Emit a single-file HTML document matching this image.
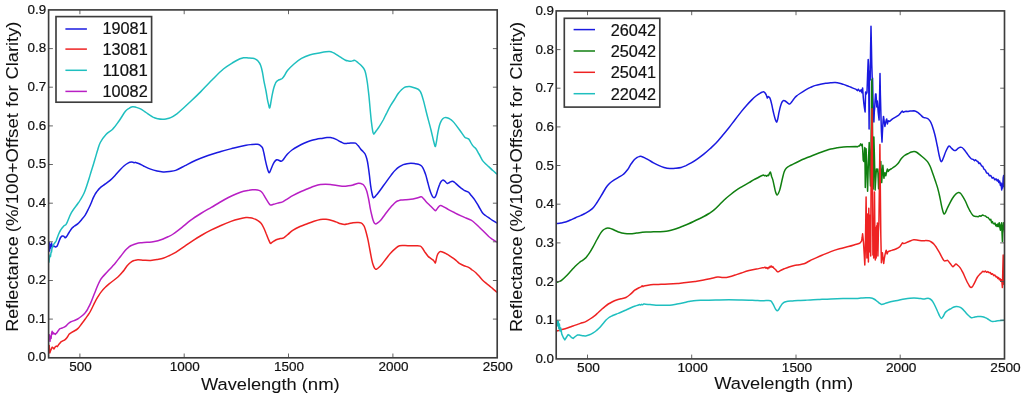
<!DOCTYPE html>
<html><head><meta charset="utf-8"><title>Reflectance spectra</title>
<style>
html,body{margin:0;padding:0;background:#fff;}
body{width:1024px;height:398px;overflow:hidden;}
svg{display:block;font-family:"Liberation Sans",sans-serif;will-change:transform;transform:translateZ(0);}
text{-webkit-font-smoothing:antialiased;stroke:#111;stroke-width:0.2px;}
text.al{stroke-width:0.05px;}
</style></head><body>
<svg width="1024" height="398" viewBox="0 0 1024 398">
<rect width="1024" height="398" fill="#fff"/>
<clipPath id="c48"><rect x="48.6" y="9.9" width="448.6" height="347.9"/></clipPath>
<g clip-path="url(#c48)" fill="none" stroke-width="1.5" stroke-linejoin="round" stroke-linecap="butt">
<path stroke="#1a1ae0" d="M48.9 246L49.2 242.6L49.6 251.1L50.2 244.5L50.8 248L51.5 243.1L52.2 246.2L53 246.5L54 246.1L55.6 247.1L57.1 246.1L57.1 246.1C57.3 245.7 57.8 244.6 58.1 243.8C58.4 243 58.7 242.2 59.1 241.1C59.5 240 60.1 238.3 60.6 237.5C61.1 236.7 61.6 236.2 62.1 236C62.6 235.8 63.2 236 63.6 236.2C64 236.4 64.3 236.9 64.6 237.2C64.9 237.4 65 237.8 65.3 237.7C65.6 237.6 66 237.4 66.6 236.5C67.2 235.6 68.2 233.9 69.1 232.5C70 231.1 71.2 229.1 72.1 228C73 226.9 73.6 226.7 74.5 226C75.4 225.3 76.5 225 77.7 223.9C78.9 222.8 80.2 221.2 81.5 219.7C82.8 218.2 84 216.9 85.2 215.1C86.4 213.3 87.4 211.1 88.4 209C89.5 206.9 90.8 204 91.5 202.3C92.2 200.6 92.3 200.1 92.8 198.9C93.3 197.7 94.1 196.2 94.7 195C95.3 193.8 95.7 193.2 96.6 192C97.5 190.8 98.8 188.9 100.3 187.6C101.8 186.2 103.7 185.2 105.4 183.9C107.1 182.7 108.7 181.6 110.4 180.1C112.1 178.6 113.7 176.9 115.4 175.1C117.1 173.3 118.9 171 120.4 169.4C121.9 167.8 122.9 166.8 124.2 165.7C125.5 164.6 126.8 163.7 128 163.1C129.2 162.5 130.6 162.2 131.7 162.1C132.8 162 133.7 162.6 134.3 162.7C134.9 162.8 134.7 162.2 135.5 162.4C136.3 162.6 137.9 163.2 139.3 163.8C140.7 164.4 142.1 165.3 144 166.2C145.9 167.1 148.4 168.3 150.6 169.1C152.8 169.9 154.9 170.5 157 171C159.1 171.5 161 171.8 163.1 171.9C165.2 172 167.4 171.8 169.5 171.5C171.6 171.2 173.1 171.4 175.7 170.4C178.3 169.4 181.7 167.4 185 165.7C188.3 164 192 162 195.8 160.3C199.6 158.6 203.8 157 208 155.5C212.2 154 216.6 152.8 220.9 151.5C225.2 150.2 229.8 149.1 234 148C238.2 146.9 243 145.8 246 145.2C249 144.6 250.1 144.7 252 144.5C253.9 144.3 256 144.1 257.3 144.2C258.6 144.3 259.1 144.6 260 145.2C260.9 145.8 261.7 146.3 262.4 147.7C263.1 149.1 263.5 151.4 264 153.5C264.5 155.6 264.9 158.1 265.4 160.3C265.9 162.6 266.5 165.2 267 167C267.5 168.8 267.8 170.1 268.2 171C268.6 171.9 268.9 172.6 269.2 172.7C269.5 172.8 269.7 172.5 270.2 171.3C270.7 170.2 271.7 167.4 272.4 165.8C273.1 164.2 273.8 162.8 274.5 161.8C275.2 160.8 276 160.1 276.7 159.8C277.4 159.6 278.1 160.1 278.8 160.3C279.6 160.6 280.5 161.4 281.2 161.3C281.9 161.2 282.4 160.7 283 160C283.6 159.3 284.2 158.2 285 157.2C285.8 156.2 286.3 155.2 287.5 154C288.7 152.8 290.3 151.2 292 150C293.7 148.8 295.7 147.6 297.7 146.5C299.7 145.4 301.9 144.2 304 143.2C306.1 142.2 308.2 141.4 310.3 140.7C312.4 140 314.4 139.6 316.5 139.2C318.6 138.8 321.1 138.5 322.9 138.2C324.6 137.9 325.8 137.7 327 137.6C328.2 137.5 329.3 137.3 330.4 137.4C331.5 137.5 332.4 137.9 333.5 138.3C334.6 138.7 335.5 139.1 336.7 139.7C337.9 140.3 339.2 141.2 340.5 141.8C341.8 142.4 343 143.2 344.2 143.5C345.4 143.8 346.4 143.4 347.5 143.3C348.6 143.2 349.6 143.1 350.5 143C351.4 142.9 352.2 143 353 143C353.8 143 354.7 142.8 355.5 143.2C356.3 143.6 357.1 144.6 358 145.6C358.9 146.6 359.8 148 360.6 149C361.4 150 362.2 150.7 363 151.5C363.8 152.3 364.5 152.8 365.1 154C365.7 155.2 366.3 156.9 366.8 158.8C367.3 160.7 367.7 162.6 368.1 165.3C368.5 168 369 171.7 369.4 175C369.8 178.3 370.2 182.5 370.6 185.4C371 188.3 371.4 190.5 371.8 192.5C372.2 194.5 372.7 196.7 373.1 197.5C373.5 198.3 373.9 197.6 374.3 197.3C374.8 197 375.2 196.5 375.8 195.8C376.4 195.1 376.9 194.6 378.1 193C379.3 191.4 381.3 188.6 383 186.3C384.7 184 386.7 181.2 388.2 179.1C389.7 177 390.8 175.6 392 174C393.2 172.4 394.4 171 395.7 169.8C396.9 168.6 398.2 167.6 399.5 166.7C400.8 165.8 402.1 165.1 403.3 164.6C404.6 164.1 405.8 163.9 407 163.7C408.2 163.5 409.6 163.3 410.8 163.3C412.1 163.3 413.2 163.4 414.5 163.6C415.8 163.8 417.3 164 418.3 164.3C419.3 164.6 419.7 164.8 420.3 165.2C420.9 165.6 421.5 165.8 422.1 166.6C422.7 167.4 423.4 168.8 424 170.3C424.6 171.8 425.3 173.4 425.9 175.4C426.5 177.4 427.2 180.2 427.8 182.5C428.4 184.8 429 187.2 429.6 189.2C430.2 191.2 430.9 193.1 431.5 194.5C432.1 195.9 432.8 197.1 433.4 197.5C434 197.9 434.4 197.8 434.9 197.2C435.4 196.6 435.9 195.6 436.4 194.2C436.9 192.8 437.4 190.7 438 189C438.6 187.3 439.1 185.5 439.7 184.2C440.2 182.9 440.8 181.9 441.3 181.2C441.9 180.5 442.4 179.9 443 179.9C443.6 179.9 444.3 180.7 445 181.3C445.7 181.9 446.4 183.2 447.2 183.4C447.9 183.6 448.6 182.9 449.5 182.5C450.4 182.1 451.4 181.2 452.3 181.2C453.2 181.2 453.9 181.9 454.7 182.5C455.5 183.1 456.3 184 457.3 184.9C458.3 185.8 459.4 186.8 460.5 187.7C461.6 188.5 462.7 189.4 463.6 190C464.5 190.6 465.2 190.7 466 191.1C466.8 191.5 467.7 191.4 468.6 192.2C469.5 193 470.4 194.5 471.5 195.8C472.6 197.1 473.7 198.4 474.9 200.1C476.1 201.8 477.2 203.9 478.5 206C479.8 208.1 481.2 211.1 482.4 212.7C483.6 214.3 484.4 214.7 485.5 215.5C486.6 216.3 487.5 216.9 488.7 217.7C489.9 218.5 491.1 219.4 492.5 220.3C493.9 221.2 496.4 222.7 497.2 223.2"/>
<path stroke="#ee2222" d="M48.9 348L49.2 345.4L49.8 353L50.7 350.3L52.2 347.2L53.1 347.8L54 349L55.2 346.9L56.4 346L57.3 346.6L58.5 344.8L60.9 341.9L60.9 341.9C61.2 341.7 62.2 341.1 62.8 340.8C63.4 340.5 63.8 340.6 64.5 340.1C65.2 339.6 66.1 338.7 66.9 337.7C67.7 336.7 68.6 334.9 69.3 334.1C70 333.3 70.4 333.2 71 332.8C71.6 332.4 71.9 332.4 73 331.7C74.1 331 76.4 329.9 77.8 328.6C79.2 327.3 80.3 325.6 81.5 324C82.7 322.4 84.2 320.4 85.2 319C86.2 317.6 87 316.6 87.8 315.3C88.6 314.1 89.5 313 90.3 311.5C91.1 310 92 308.2 92.8 306.5C93.6 304.8 94.3 303.2 95.3 301.4C96.2 299.6 97.5 297.5 98.5 295.8C99.5 294.1 100.5 292.8 101.6 291.4C102.7 290 104 288.6 105.3 287.3C106.5 286 107.7 284.9 109.1 283.8C110.5 282.7 112 281.6 113.5 280.5C115 279.4 116.7 278.1 117.9 277C119.2 275.9 120 275 121 273.8C122 272.6 123.1 271.5 124.2 270C125.3 268.5 126.5 266.4 127.8 265C129 263.6 130.5 262.4 131.7 261.6C132.9 260.8 133.8 260.7 134.8 260.4C135.9 260.1 136.5 259.8 138 259.8C139.5 259.8 141.9 260.1 144 260.2C146.1 260.3 148.4 260.5 150.6 260.4C152.8 260.3 154.9 260 157 259.6C159.1 259.2 161 259 163.1 258.3C165.2 257.6 167.4 256.5 169.5 255.5C171.6 254.5 173.2 253.8 175.7 252.3C178.2 250.8 181.6 248.3 184.5 246.3C187.4 244.3 190.4 242.2 193.3 240.3C196.2 238.4 199.1 236.7 202 235C204.9 233.3 207.7 231.8 210.9 230.2C214.1 228.6 217.7 227 221 225.5C224.3 224 228 222.5 231 221.4C234 220.3 236.5 219.6 239 219C241.5 218.4 244.2 217.8 246 217.6C247.8 217.4 248.7 217.6 250 217.8C251.3 218 252.3 218.2 253.6 218.6C254.8 219 256.2 219.5 257.5 220.3C258.8 221.1 260.1 222 261.1 223.3C262.2 224.6 263 226.3 263.8 228C264.6 229.7 265.4 231.7 266.1 233.5C266.9 235.3 267.6 237.4 268.3 239C269 240.6 269.8 242.8 270.4 243.3C271 243.9 271 242.9 272 242.3C273 241.7 274.9 240.4 276.2 239.8C277.5 239.2 278.8 238.9 280 238.6C281.2 238.3 282.4 238.5 283.7 237.8C285 237.1 286.5 235.6 288 234.3C289.5 233.1 290.7 231.6 292.7 230.3C294.7 229 297.5 227.6 300 226.5C302.5 225.4 305.5 224.4 307.8 223.5C310.1 222.6 311.9 221.9 314 221.2C316.1 220.5 318.6 219.7 320.4 219.4C322.2 219.1 323.6 219.2 325 219.3C326.4 219.4 327.7 219.4 329.1 219.7C330.5 220 332 220.5 333.5 221C335 221.5 336.6 222.2 337.9 222.7C339.1 223.2 339.9 223.5 341 223.8C342.1 224.1 342.9 224.5 344.2 224.5C345.4 224.5 347 224 348.5 223.7C350 223.4 351.6 222.9 353 222.7C354.4 222.5 355.7 222.5 357 222.5C358.3 222.5 359.7 222.4 360.6 222.7C361.5 222.9 361.9 223.4 362.5 224C363.1 224.6 363.7 225.1 364.3 226.5C364.9 227.9 365.6 230.2 366.2 232.5C366.8 234.8 367.5 237.3 368.1 240.3C368.7 243.3 369.4 247.2 370 250.5C370.6 253.8 371.4 258 371.9 260.4C372.4 262.8 372.8 263.8 373.2 265C373.6 266.2 374 267.2 374.4 267.9C374.8 268.6 375.1 268.8 375.4 269C375.7 269.2 375.9 269.4 376.4 269.2C376.9 269 377.6 268.5 378.5 267.7C379.4 266.9 380.6 265.7 381.9 264.2C383.2 262.7 384.8 260.4 386.3 258.5C387.8 256.6 389.2 254.5 390.7 252.9C392.1 251.3 393.5 250 395 248.8C396.5 247.6 397.8 246.3 399.5 245.8C401.2 245.3 403.1 245.6 405 245.6C406.9 245.6 409 245.8 410.8 245.8C412.6 245.8 414.4 245.8 416 245.8C417.6 245.9 419.3 245.7 420.4 246.1C421.5 246.5 421.8 247.4 422.5 248.3C423.2 249.2 423.9 250.6 424.6 251.6C425.3 252.6 425.9 253.5 426.5 254.3C427.1 255.1 427.7 255.9 428.4 256.6C429.1 257.3 429.9 257.8 430.6 258.3C431.4 258.9 432.3 259.4 432.9 259.9C433.5 260.4 433.9 261 434.3 261.5C434.7 262 435.1 263.2 435.4 262.9C435.7 262.6 435.9 260.8 436.2 259.5C436.5 258.2 436.8 256.5 437.2 255.4C437.6 254.3 438.1 253.4 438.7 252.8C439.2 252.2 439.8 251.7 440.5 251.6C441.2 251.5 442.1 251.9 443 252.2C443.9 252.5 444.9 253 446 253.6C447.1 254.2 448.4 255 449.7 255.8C450.9 256.6 452.3 257.5 453.5 258.4C454.7 259.3 455.6 260.1 456.7 261C457.8 261.9 458.6 262.9 459.8 263.7C461 264.5 462.5 265.1 464 265.7C465.5 266.3 467.2 266.7 468.6 267.4C470 268.1 471.1 269.1 472.3 270C473.6 270.9 475 271.9 476.1 273C477.2 274.1 478.1 275.1 479.2 276.3C480.2 277.5 481.3 278.9 482.4 280C483.5 281.1 484.7 282.1 486 283.2C487.3 284.2 488.8 285.3 490 286.3C491.2 287.3 492.3 288.3 493.5 289.3C494.7 290.3 496.6 292 497.2 292.5"/>
<path stroke="#1fbfbf" d="M48.9 262.7L49.4 258L50 255.1L50.5 256.5L51 252.5L51.5 252.1L52 248.1L52.7 246.8L53.5 244.6L54.7 243L56.1 241.1L56.1 241.1C56.4 240.2 57.4 237.2 58.1 235.5C58.8 233.8 59.4 232.2 60.1 231C60.8 229.8 61.4 228.9 62.1 228C62.8 227.1 63.6 226.2 64.3 225.5C65 224.8 65.2 226.1 66.4 223.9C67.6 221.8 69.5 215.9 71.4 212.6C73.3 209.2 76.2 205.9 77.7 203.8C79.2 201.7 79.2 201.8 80.2 200C81.2 198.2 82.9 195.8 84 193.3C85.1 190.8 86.2 187.4 87 185C87.8 182.6 88.2 181.4 89 178.8C89.8 176.2 90.8 172.6 91.8 169.5C92.8 166.4 93.8 163.2 94.7 160C95.7 156.8 96.6 153.4 97.5 150.5C98.4 147.6 98.9 145.2 100.3 142.5C101.7 139.8 103.9 136.8 106 134.5C108.1 132.2 110.7 131.2 112.9 128.9C115.1 126.7 116.9 123.9 119 121C121.1 118.1 123.7 113.4 125.4 111.3C127.1 109.2 127.8 109 129 108.3C130.2 107.5 131.3 107 132.5 106.8C133.7 106.6 134.7 107 136 107.3C137.3 107.6 138.8 107.9 140.5 108.8C142.2 109.7 143.9 111.1 146 112.5C148.1 113.9 151 116 153 117.1C155 118.1 156.4 118.4 158 118.8C159.6 119.2 161.1 119.3 162.4 119.3C163.7 119.3 164.6 119.2 166 118.9C167.4 118.6 168.9 118.4 170.7 117.6C172.5 116.8 174.8 115.3 176.9 113.8C179 112.3 180.7 110.6 183 108.5C185.3 106.4 187.8 104.1 190.8 101.3C193.8 98.5 197.3 95.1 200.8 91.6C204.3 88 208.2 83.8 212 80C215.8 76.2 219.9 71.9 223.4 69C226.9 66.1 230.2 64.2 233 62.5C235.8 60.8 238.2 59.6 240 58.8C241.8 58 242.2 57.9 243.5 57.7C244.8 57.6 246.6 57.8 248 57.9C249.4 58 250.8 58 252 58.2C253.2 58.4 254 58.4 255 58.9C256 59.4 257.1 60 258 61C258.9 62 259.9 63.4 260.6 65.2C261.3 67 261.9 69.5 262.4 72C262.9 74.5 263.2 77.1 263.8 80.3C264.4 83.5 265.4 87.7 266 91C266.6 94.3 267.1 98 267.6 100.4C268.1 102.8 268.5 104.2 268.8 105.5C269.1 106.8 269.4 108.2 269.7 108C270 107.8 270.2 106.1 270.6 104C271 101.9 271.6 97.9 272.1 95.4C272.6 92.9 273 90.9 273.5 89C274 87.1 274.6 85.3 275.1 84.1C275.6 82.8 276.1 82.1 276.6 81.5C277.1 80.9 277.5 80.6 278.1 80.3C278.7 80 279.3 79.8 280 79.5C280.7 79.2 281.4 79.2 282.2 78.5C282.9 77.8 283.6 76.9 284.5 75.5C285.4 74.1 286.1 72.2 287.7 70.3C289.3 68.4 291.7 66 294 64C296.3 62 298.8 59.9 301.5 58.4C304.2 56.9 307.2 55.7 310.3 54.7C313.4 53.8 317.8 53.2 320.4 52.7C323 52.2 324.6 51.9 326 51.7C327.4 51.5 328.2 51.4 329.1 51.4C330 51.4 330.6 51.7 331.5 52C332.4 52.3 332.7 52.3 334.2 53.2C335.7 54.1 338.6 56 340.5 57.2C342.4 58.4 344.2 59.6 345.5 60.2C346.8 60.8 347.6 60.7 348.5 60.9C349.4 61.1 350.3 61.2 351 61.2C351.7 61.2 352.2 61 352.8 60.8C353.4 60.6 353.8 60.2 354.3 60.2C354.8 60.2 355.4 60.6 356 61C356.6 61.4 357.2 62 358 62.7C358.8 63.4 360.1 64.4 361 65.3C361.9 66.2 362.9 67.2 363.6 68.2C364.3 69.2 364.6 69.8 365 71C365.4 72.2 365.7 73.3 366.1 75.3C366.5 77.3 367 80.1 367.4 83C367.8 85.9 368.2 89.6 368.6 92.9C369 96.2 369.3 99.7 369.6 103C369.9 106.3 370.2 110 370.5 113C370.8 116 371 118.5 371.3 121C371.6 123.5 371.9 126.1 372.2 128C372.5 129.9 372.7 131.5 373 132.5C373.3 133.5 373.5 134.2 373.8 134.2C374.1 134.2 374.6 133.1 375 132.5C375.4 131.9 375.8 131.5 376.5 130.5C377.2 129.5 378.3 128.2 379.4 126.4C380.5 124.7 381.9 122.3 383.2 120C384.4 117.7 385.6 115 386.9 112.6C388.1 110.2 389.4 107.6 390.7 105.4C392 103.2 393.2 101.5 394.5 99.5C395.8 97.5 397 95.1 398.2 93.5C399.4 91.9 400.4 90.7 401.5 89.7C402.6 88.7 403.6 87.8 404.5 87.3C405.4 86.8 406.2 86.8 407 86.7C407.8 86.6 408.6 86.5 409.5 86.6C410.4 86.7 411.4 86.9 412.5 87.2C413.6 87.5 414.8 87.9 415.8 88.3C416.8 88.7 417.7 89 418.5 89.5C419.3 90 419.8 90.7 420.4 91.6C420.9 92.5 421.3 93.5 421.8 95C422.3 96.5 422.7 97.9 423.4 100.4C424.1 102.9 425 106.7 425.8 110C426.6 113.3 427.5 116.8 428.4 120.1C429.3 123.4 430.2 126.7 431 130C431.8 133.3 432.8 137.8 433.4 140.2C434 142.6 434.2 143.4 434.5 144.5C434.8 145.6 435.1 146.9 435.4 146.5C435.7 146.1 436 144.3 436.4 142C436.8 139.7 437.4 135.4 437.9 132.7C438.4 130 438.8 127.9 439.3 126C439.8 124.1 440.4 122.6 441 121.4C441.6 120.2 442.2 119.4 442.8 118.8C443.4 118.2 444 117.8 444.7 117.6C445.4 117.4 446.2 117.5 447 117.7C447.8 117.9 448.8 118.2 449.7 118.8C450.6 119.3 451.4 120 452.5 121C453.6 122 454.8 123.5 456 125.1C457.2 126.7 458.5 128.5 460 130.5C461.5 132.5 463.7 135.9 464.8 137.2C465.9 138.5 466.2 137.9 466.8 138.2C467.4 138.5 468 138.3 468.6 138.9C469.2 139.5 469.9 140.9 470.5 142C471.1 143.1 471.8 144.3 472.4 145.2C473 146.1 473.7 146.6 474.3 147.2C474.9 147.8 475.3 147.9 476.1 149C476.9 150.1 477.9 152.1 479 154C480.1 155.9 481.3 158.7 482.4 160.3C483.5 161.9 484.4 162.6 485.5 163.7C486.6 164.8 487.5 165.5 488.7 166.6C489.9 167.7 491.1 169 492.5 170.3C493.9 171.6 496.4 173.5 497.2 174.2"/>
<path stroke="#b81fc4" d="M48.9 336L49.2 334.7L49.6 338L50 341.3L50.4 337.5L50.7 336L51.1 338.5L51.5 334L52.1 331.3L52.6 334L53.1 332.5L53.8 333.8L54.5 333.5L55.2 334.4L56.1 333.5L57 332.6L57 332.6C57.2 332.3 57.9 331.2 58.4 330.6C58.9 330 59.1 329.3 59.7 328.9C60.3 328.5 61.2 328.4 62.1 328C63 327.6 64.1 327.4 65.1 326.7C66.1 326 67.2 324.6 68.1 323.8C69 323 69.5 322.5 70.5 322C71.5 321.5 72.8 321.1 74 320.6C75.2 320.1 76.5 319.7 77.7 319C79 318.3 80.2 317.4 81.5 316.3C82.8 315.2 84.2 313.9 85.2 312.7C86.2 311.4 87 310.3 87.8 308.8C88.6 307.3 89.5 305.7 90.3 303.9C91.1 302.1 92 299.9 92.8 297.8C93.6 295.7 94.5 293.5 95.3 291.4C96.1 289.3 97 287.2 97.8 285.3C98.6 283.4 99.5 281.5 100.3 280.1C101.1 278.7 101.2 278.5 102.5 277C103.8 275.5 105.6 273.7 107.8 271.3C110 268.9 113.3 265.4 115.4 262.9C117.5 260.4 118.8 258.6 120.5 256.5C122.2 254.4 124.1 251.8 125.4 250.3C126.7 248.8 127.5 248.1 128.5 247.3C129.6 246.5 130.4 245.9 131.7 245.3C132.9 244.7 134.5 244.1 136 243.7C137.5 243.3 138.7 243 140.5 242.8C142.3 242.6 144.9 242.5 147 242.3C149.1 242.1 151.3 242.1 153.1 241.8C154.9 241.5 156.3 241.2 158 240.7C159.7 240.2 161.4 239.7 163.1 239C164.8 238.3 166.3 237.6 168 236.8C169.7 236 170.9 235.6 173.2 234C175.5 232.4 179.1 229.6 182 227.3C184.9 225 187.7 222.5 190.8 220.2C193.9 217.9 197.5 215.6 200.8 213.5C204.2 211.4 207.8 209.4 210.9 207.6C214 205.8 216.6 204.2 219.5 202.5C222.4 200.8 225.7 198.9 228.4 197.5C231.2 196.1 233.5 195 236 194C238.5 193 241.3 191.9 243.5 191.3C245.7 190.7 247.3 190.4 249 190.2C250.7 189.9 252.2 189.9 253.6 189.8C255 189.8 256.4 189.7 257.5 189.9C258.6 190.1 259.3 190.3 260.2 190.8C261.1 191.3 261.8 192 262.6 193.1C263.4 194.2 264.2 195.8 265 197.2C265.8 198.6 266.9 200.3 267.6 201.4C268.3 202.5 268.7 203.2 269.2 203.8C269.7 204.4 269.9 205 270.6 205.1C271.3 205.2 272.3 204.6 273.5 204.3C274.7 204 276.5 203.4 277.6 203.1C278.7 202.8 279.4 202.7 280.2 202.5C281 202.3 281.5 202.5 282.7 201.9C283.9 201.3 285.8 199.9 287.5 198.8C289.2 197.8 290.6 196.7 292.7 195.6C294.8 194.5 297.5 193.1 300 192C302.5 190.9 305.5 189.8 307.8 188.8C310.1 187.9 311.9 187 314 186.3C316.1 185.6 318.5 184.8 320.4 184.5C322.3 184.2 323.8 184.2 325.5 184.2C327.2 184.2 328.5 184.2 330.4 184.4C332.3 184.6 334.7 185.2 337 185.5C339.3 185.8 342.3 186.3 344.2 186.3C346.1 186.3 347 185.9 348.5 185.7C350 185.5 351.8 185.2 353 184.9C354.2 184.6 354.9 184.3 355.8 184C356.7 183.7 357.6 183.4 358.5 183.3C359.4 183.2 360.2 183.4 361 183.6C361.8 183.8 362.4 183.9 363.1 184.5C363.8 185.1 364.4 185.9 365 187C365.6 188.1 366.2 189.4 366.8 191.3C367.4 193.2 367.9 195.8 368.5 198.5C369.1 201.2 369.6 204.9 370.1 207.6C370.6 210.3 371.1 212.4 371.6 214.5C372.1 216.6 372.6 218.8 373.1 220.2C373.6 221.6 374 222.6 374.4 223.2C374.8 223.8 375.1 224 375.6 224C376.1 224 376.5 223.8 377.3 223.2C378.1 222.6 379.5 221.5 380.7 220.2C381.9 218.9 383.2 216.9 384.5 215.2C385.8 213.5 386.9 211.8 388.2 210.2C389.4 208.6 390.8 207.2 392 205.8C393.2 204.5 394.6 202.9 395.7 202.1C396.8 201.3 397.4 201.1 398.3 200.8C399.2 200.5 399.6 200.3 400.8 200.1C402 199.9 403.8 199.8 405.5 199.7C407.2 199.6 409.1 199.5 410.8 199.3C412.6 199.1 414.3 198.7 416 198.3C417.7 197.9 419.8 197 420.9 196.8C421.9 196.6 421.9 197 422.3 197.3C422.8 197.6 423 198.1 423.6 198.8C424.2 199.5 424.8 200.2 425.9 201.4C427 202.6 429.1 204.6 430.5 206C431.9 207.4 433.4 208.9 434.2 209.7C435 210.5 435 210.7 435.4 210.7C435.8 210.7 436.1 210.1 436.6 209.5C437.1 208.9 437.9 207.7 438.5 207C439.1 206.3 439.8 205.7 440.5 205.6C441.2 205.5 441.5 205.6 442.8 206.3C444.1 207 446.5 208.5 448.5 209.6C450.5 210.7 452.7 211.8 454.8 212.8C456.9 213.9 459.2 215 461.1 215.9C463 216.8 464.3 217.3 466 218C467.7 218.7 469.6 219.4 471.1 220.2C472.6 221 473.6 221.9 474.8 223C476.1 224.1 477.2 225.1 478.6 226.5C480.1 227.9 481.8 229.6 483.5 231.3C485.2 233 487.2 235.2 488.7 236.5C490.2 237.8 491.1 238.3 492.5 239.3C493.9 240.3 496.4 241.8 497.2 242.3"/>
</g>
<path d="M79.9 357.8v-4.3M79.9 9.9v4.3M184.2 357.8v-4.3M184.2 9.9v4.3M288.5 357.8v-4.3M288.5 9.9v4.3M392.9 357.8v-4.3M392.9 9.9v4.3M48.6 319.1h4.3M497.2 319.1h-4.3M48.6 280.5h4.3M497.2 280.5h-4.3M48.6 241.8h4.3M497.2 241.8h-4.3M48.6 203.2h4.3M497.2 203.2h-4.3M48.6 164.5h4.3M497.2 164.5h-4.3M48.6 125.9h4.3M497.2 125.9h-4.3M48.6 87.2h4.3M497.2 87.2h-4.3M48.6 48.6h4.3M497.2 48.6h-4.3" stroke="#555" stroke-width="0.9" fill="none"/>
<rect x="48.6" y="9.9" width="448.6" height="347.9" fill="none" stroke="#3d3d3d" stroke-width="1.65"/>
<g font-size="12.7" fill="#111">
<text x="80.4" y="371.3" text-anchor="middle" textLength="22.5" lengthAdjust="spacingAndGlyphs">500</text>
<text x="184.7" y="371.3" text-anchor="middle" textLength="30" lengthAdjust="spacingAndGlyphs">1000</text>
<text x="289" y="371.3" text-anchor="middle" textLength="30" lengthAdjust="spacingAndGlyphs">1500</text>
<text x="393.4" y="371.3" text-anchor="middle" textLength="30" lengthAdjust="spacingAndGlyphs">2000</text>
<text x="497.7" y="371.3" text-anchor="middle" textLength="30" lengthAdjust="spacingAndGlyphs">2500</text>
<text x="46.1" y="361.4" text-anchor="end" textLength="18.6" lengthAdjust="spacingAndGlyphs">0.0</text>
<text x="46.1" y="322.7" text-anchor="end" textLength="18.6" lengthAdjust="spacingAndGlyphs">0.1</text>
<text x="46.1" y="284.1" text-anchor="end" textLength="18.6" lengthAdjust="spacingAndGlyphs">0.2</text>
<text x="46.1" y="245.4" text-anchor="end" textLength="18.6" lengthAdjust="spacingAndGlyphs">0.3</text>
<text x="46.1" y="206.8" text-anchor="end" textLength="18.6" lengthAdjust="spacingAndGlyphs">0.4</text>
<text x="46.1" y="168.1" text-anchor="end" textLength="18.6" lengthAdjust="spacingAndGlyphs">0.5</text>
<text x="46.1" y="129.5" text-anchor="end" textLength="18.6" lengthAdjust="spacingAndGlyphs">0.6</text>
<text x="46.1" y="90.8" text-anchor="end" textLength="18.6" lengthAdjust="spacingAndGlyphs">0.7</text>
<text x="46.1" y="52.2" text-anchor="end" textLength="18.6" lengthAdjust="spacingAndGlyphs">0.8</text>
<text x="46.1" y="13.5" text-anchor="end" textLength="18.6" lengthAdjust="spacingAndGlyphs">0.9</text>
</g>
<text class="al" x="201" y="389.9" font-size="16.6" fill="#111" textLength="95.6" lengthAdjust="spacingAndGlyphs">Wavelength</text>
<text class="al" x="301.7" y="389.9" font-size="16.6" fill="#111" textLength="38.1" lengthAdjust="spacingAndGlyphs">(nm)</text>
<text class="al" transform="translate(18.4 331.8) rotate(-90)" font-size="16.6" fill="#111" textLength="95.5" lengthAdjust="spacingAndGlyphs">Reflectance</text>
<text class="al" transform="translate(18.4 232.2) rotate(-90)" font-size="16.6" fill="#111" textLength="119.1" lengthAdjust="spacingAndGlyphs">(%/100+Offset</text>
<text class="al" transform="translate(18.4 107.1) rotate(-90)" font-size="16.6" fill="#111" textLength="21.9" lengthAdjust="spacingAndGlyphs">for</text>
<text class="al" transform="translate(18.4 79.6) rotate(-90)" font-size="16.6" fill="#111" textLength="58" lengthAdjust="spacingAndGlyphs">Clarity)</text>
<rect x="56" y="16.6" width="95.6" height="85.6" fill="#fff" stroke="#3d3d3d" stroke-width="1.65"/>
<path d="M65.4 29H86.9" stroke="#1a1ae0" stroke-width="1.5"/>
<text x="102.5" y="34.4" font-size="15.9" fill="#111" textLength="45.2" lengthAdjust="spacingAndGlyphs">19081</text>
<path d="M65.4 49.1H86.9" stroke="#ee2222" stroke-width="1.5"/>
<text x="102.5" y="54.5" font-size="15.9" fill="#111" textLength="45.2" lengthAdjust="spacingAndGlyphs">13081</text>
<path d="M65.4 70.3H86.9" stroke="#1fbfbf" stroke-width="1.5"/>
<text x="102.5" y="75.7" font-size="15.9" fill="#111" textLength="45.2" lengthAdjust="spacingAndGlyphs">11081</text>
<path d="M65.4 91.4H86.9" stroke="#b81fc4" stroke-width="1.5"/>
<text x="102.5" y="96.8" font-size="15.9" fill="#111" textLength="45.2" lengthAdjust="spacingAndGlyphs">10082</text>
<clipPath id="c556"><rect x="556.2" y="10.9" width="448.3" height="348"/></clipPath>
<g clip-path="url(#c556)" fill="none" stroke-width="1.5" stroke-linejoin="round" stroke-linecap="butt">
<path stroke="#1a1ae0" d="M557 223.6C557.7 223.5 559.6 223.3 561 223C562.4 222.7 564 222.5 565.6 222C567.2 221.5 568.8 220.7 570.5 220C572.2 219.3 573.9 218.4 575.6 217.7C577.3 217 578.8 216.3 580.5 215.6C582.2 214.8 584.2 214 585.7 213.2C587.2 212.4 588.2 211.7 589.5 210.8C590.8 209.9 592 209.1 593.2 207.7C594.5 206.3 595.7 204.4 597 202.5C598.3 200.6 599.6 198.3 600.8 196.4C602 194.5 603 192.7 604 191C605 189.3 606 187.6 607 186.3C608 185 608.9 184 610 183C611.1 182 612.1 181.3 613.5 180.4C614.9 179.5 616.9 178.3 618.5 177.3C620.1 176.3 621.9 175.6 623.4 174.3C624.9 173.1 626.2 171.5 627.5 169.8C628.8 168.1 629.8 165.8 630.9 164.2C632 162.6 633 161.1 634 160C635 158.9 636.3 158 637.2 157.4C638.1 156.8 638.8 156.7 639.5 156.5C640.2 156.3 640.6 156.2 641.5 156.4C642.4 156.6 643.6 157.2 644.8 157.8C646 158.4 647 159.1 648.5 159.9C650 160.7 651.8 161.9 653.5 162.8C655.2 163.7 656.9 164.6 658.6 165.4C660.4 166.2 662.1 166.9 664 167.4C665.9 167.9 668 168.3 669.9 168.4C671.8 168.5 673.6 168.4 675.5 168.2C677.4 168 679.5 167.8 681.2 167.4C683 167 684.3 166.3 686 165.6C687.7 164.8 689.3 164 691.2 162.9C693.1 161.8 695.4 160.3 697.5 158.8C699.6 157.3 701.7 155.8 703.8 154.1C705.9 152.4 707.9 150.6 710 148.7C712.1 146.8 714.2 145 716.3 142.8C718.4 140.6 720.4 138 722.5 135.5C724.6 133 726.8 130.3 728.9 127.7C731 125.1 732.9 122.4 735 119.7C737.1 117 739.6 113.8 741.5 111.4C743.4 109 744.8 107.4 746.5 105.5C748.2 103.6 749.9 101.7 751.5 100.1C753.1 98.5 754.5 97.2 756 96C757.5 94.8 759.3 93.7 760.3 93.1C761.3 92.5 761.5 92.4 762 92.2C762.5 92 763.1 91.7 763.6 91.8C764.1 91.9 764.5 92.3 764.9 92.8C765.3 93.3 765.9 94.3 766.1 94.6L766.1 94.6L767.3 98.1L768.2 96.5L769.1 97.1L769.9 98L770.6 100L770.6 100C770.8 100.7 771.2 102.3 771.6 103.9C772 105.5 772.4 107.6 772.8 109.5C773.2 111.4 773.7 113.5 774.1 115.2C774.5 116.9 775 118.6 775.4 119.8C775.8 121 776.2 122.2 776.6 122.2C777 122.2 777.2 120.9 777.6 119.5C778 118.1 778.3 115.8 778.7 113.9C779.1 112 779.5 110 779.9 108.3C780.3 106.6 780.8 105 781.2 103.9C781.6 102.8 782 102.1 782.4 101.5C782.8 100.9 783.2 100.6 783.7 100.5C784.2 100.4 784.7 100.7 785.2 101C785.7 101.3 786.2 101.7 786.7 102.1C787.2 102.5 787.7 103.1 788.2 103.4C788.7 103.7 789.2 104.1 789.7 104C790.2 103.9 790.7 103.2 791.2 102.6C791.8 101.9 792.4 100.9 793 100.1C793.6 99.3 794.2 98.4 794.8 97.7C795.4 97 795.8 96.5 796.7 95.8C797.6 95.1 798.5 94.5 800 93.5C801.5 92.5 804 90.9 805.7 89.9C807.5 88.9 808.8 88.2 810.5 87.4C812.2 86.7 814 85.9 815.7 85.4C817.4 84.9 818.8 84.6 820.5 84.2C822.2 83.8 824.1 83.5 825.8 83.3C827.5 83.1 828.9 82.9 830.5 82.8C832.1 82.7 833.8 82.5 835.3 82.6C836.8 82.7 838.1 82.9 839.5 83.2C840.9 83.5 842.1 84 843.4 84.4C844.6 84.8 845.8 85.3 847 85.8C848.2 86.3 849.9 86.8 850.9 87.2C851.9 87.6 852.3 87.8 853 88.1C853.7 88.4 854.7 88.8 855 88.9L855 88.9L856.2 89.4L857.3 90.6L858.3 89.2L859.2 90.5L860 91.4L860.7 90.2L861.3 89.9L861.9 92.7L862.6 87.9L863.3 97.7L863.9 104L864.4 107.6L865.1 112L865.6 92.1L866.3 94L867 92.5L867.6 75L868.2 59.4L868.6 66L869.1 128.9L869.5 75L869.8 71L870.2 80L870.6 48L871 26.3L871.4 45L871.8 65.3L872.2 77.6L872.6 78.2L873 100L873.5 115L873.9 122L874.3 112L874.7 107.6L875.1 100L875.5 94.1L876 94L876.4 100L876.8 106.9L877.3 101L877.7 105L878.1 111.3L878.6 116L879.1 120.1L879.5 100L880 73.6L880.4 95L880.9 113.8L881.4 131.4L882 142.1L882.4 133L882.7 127.7L883.1 120.5L883.5 116.4L883.9 119L884.3 122L884.9 126.4L885.4 123.5L885.8 122L886.3 120L886.7 118.9L887.1 121.5L887.4 123.9L887.9 122L888.3 120.8L889 121.2L889.6 121.4L889.6 121.4L892.5 118.9L895.5 117.2L898.8 115.1L900.2 113.6L901.3 112L902.3 111.1L903.2 112.3L904.8 111.6L906.4 111.3L908 111.4L910.1 111L912 111.1L913.9 110.7L915.5 111.2L917 112L917 112C917.3 112.2 918.1 112.7 918.6 113.1C919.1 113.5 919.7 114 920.2 114.5C920.7 115 921.3 115.6 921.8 116.1C922.3 116.6 922.8 117 923.3 117.3C923.8 117.6 924.5 117.7 925 117.8C925.5 117.9 926 117.9 926.5 118.1C927 118.3 927.8 118.6 928.3 119C928.8 119.4 929.2 119.9 929.6 120.5C930 121.1 930.5 121.7 930.9 122.6C931.3 123.5 931.8 124.6 932.2 125.8C932.6 127 932.9 127.7 933.4 129.5C933.9 131.3 934.7 133.9 935.3 136.5C935.9 139.1 936.7 143.1 937.1 145C937.5 146.9 937.4 146.2 937.7 148C938.1 149.8 938.7 153.4 939.2 155.5C939.7 157.6 940.1 159.5 940.5 160.5C940.9 161.5 941 161.7 941.3 161.7C941.6 161.7 941.9 161.4 942.3 160.5C942.7 159.6 943.3 158.1 943.9 156.5C944.5 154.9 945.2 152.7 946 151C946.8 149.3 947.8 147.3 948.4 146.5C949 145.7 949.3 146.1 949.8 146.3C950.3 146.6 950.6 147.3 951.3 148C952 148.7 953.1 149.9 953.9 150.3C954.7 150.7 955.3 150.6 956 150.3C956.7 150 957.3 148.8 958 148.3C958.7 147.8 959.5 147.3 960.2 147.2C960.9 147.1 961.4 147.1 962 147.5C962.6 147.9 963.2 148.6 964 149.5C964.8 150.4 965.7 151.7 966.5 152.8C967.3 153.9 968.2 155.3 969 156.3C969.8 157.3 970.8 158.5 971.5 159C972.2 159.5 972.8 159.2 973 159.3L973 159.3L974.5 160.6L975.5 159.8L976.5 160.8L977.8 161.5L979 163.5L980 163L981.6 165.8L982.8 166.5L984 169.2L985.2 170L986.6 172.9L988 173.2L989.4 175.8L990.8 175.5L992.2 178.2L993.5 177.5L994.8 179.8L996 178.8L997.2 181L998 179.5L998.8 182.5L999.6 181L1000.4 185.4L1001 183L1001.7 189.9L1002.2 184L1002.7 188L1003.2 178L1003.7 175.4L1004.2 186.5L1004.7 181.5"/>
<path stroke="#107f10" d="M557 282.3C557.4 282.1 558.7 281.8 559.5 281.4C560.3 281 560.7 281 561.8 280.1C562.9 279.2 564.5 277.7 566 276.2C567.5 274.7 569.1 272.9 570.6 271.3C572.1 269.7 573.5 268 575 266.5C576.5 265 578.1 263.5 579.4 262.5C580.6 261.5 581.5 261.1 582.5 260.3C583.5 259.5 584.5 259.1 585.7 257.9C586.9 256.6 588.2 254.7 589.5 252.8C590.8 250.9 592 248.8 593.2 246.6C594.5 244.4 595.7 241.8 597 239.5C598.3 237.2 599.7 234.4 600.8 232.8C601.9 231.2 602.7 230.5 603.5 229.8C604.3 229.1 605.1 228.8 605.8 228.5C606.5 228.2 607.1 228.1 607.7 228.1C608.3 228.1 608.8 228.1 609.6 228.3C610.4 228.5 611.5 228.9 612.5 229.3C613.5 229.7 614.6 230.3 615.8 230.8C617 231.3 618.2 231.9 619.5 232.3C620.8 232.7 622.1 233.1 623.4 233.3C624.6 233.5 625.8 233.6 627 233.7C628.2 233.8 629.3 233.9 630.9 233.8C632.5 233.7 634.6 233.2 636.5 233C638.4 232.8 640.3 232.5 642.2 232.3C644.1 232.1 646.1 232.1 648 232C649.9 231.9 651.5 231.9 653.5 231.8C655.5 231.8 657.9 231.8 660 231.7C662.1 231.6 664.3 231.5 666.1 231.3C667.9 231.1 669.3 230.7 671 230.3C672.7 229.9 674.2 229.5 676.1 228.8C678 228.1 680.4 227.1 682.5 226.3C684.6 225.5 686.5 224.8 688.7 223.8C691 222.8 693.5 221.5 696 220.3C698.5 219.1 701.6 217.6 703.8 216.5C706 215.4 707.3 214.6 709 213.5C710.7 212.4 712.1 211.6 713.8 210.2C715.5 208.8 717.3 207 719 205.3C720.7 203.6 722.1 201.9 723.9 200.2C725.7 198.5 727.9 196.7 730 195C732.1 193.3 734.3 191.5 736.4 190.1C738.5 188.7 740.4 187.6 742.5 186.3C744.6 185.1 747.1 183.7 749 182.6C750.9 181.5 752.3 180.6 754 179.7C755.7 178.8 757.9 177.7 759.1 177C760.4 176.3 760.8 176.1 761.5 175.8C762.2 175.5 763.2 175.1 763.6 175L763.6 175L764.6 175.8L765.6 175.4L766.6 176.3L767.6 175.2L768.5 175.6L769.4 173.5L770.4 172L771 174L771.6 176.5L771.6 176.5C771.8 177.1 772.5 178.5 772.9 180.1C773.3 181.7 773.8 184.1 774.2 186C774.6 187.9 775 190.1 775.4 191.4C775.8 192.7 776 193.4 776.3 194C776.6 194.6 776.9 195.2 777.2 195.1C777.5 195 777.9 194.3 778.3 193.5C778.7 192.7 779.2 191.8 779.7 190.1C780.2 188.4 780.8 185.8 781.3 183.5C781.8 181.2 782.4 178.5 782.9 176.5C783.4 174.5 783.8 172.9 784.3 171.6C784.8 170.3 785.1 169.5 785.8 168.7C786.5 167.8 787.3 167.3 788.5 166.5C789.7 165.7 791.4 165 793.1 164.1C794.9 163.2 796.9 162.2 799 161.2C801.1 160.2 803.5 159.2 805.7 158.3C807.9 157.4 809.9 156.5 812 155.7C814.1 154.9 816.2 154.1 818.3 153.3C820.4 152.5 822.4 151.7 824.5 151C826.6 150.3 828.7 149.5 830.8 149C832.9 148.5 834.9 148.2 837 147.8C839.1 147.5 841.3 147.1 843.4 146.9C845.5 146.7 847.4 146.8 849.5 146.7C851.6 146.6 854.8 146.5 855.9 146.5L855.9 146.5L857.5 146.8L858.5 146L859.4 146.1L860.1 145L860.7 143.8L861.2 145L861.6 145.7L862.2 144.3L862.7 150L863.2 160.1L863.8 161.5L864.3 155L864.8 147.6L865.1 170L865.3 187.6L865.7 165L866.1 148.8L866.5 160L867 172.7L867.6 191.3L868.1 172L868.6 156.4L869.2 142.5L869.7 160L870.1 176.5L870.5 186L870.9 160L871.3 120L871.7 82L872 78.9L872.3 100L872.7 150L873.2 189L873.5 160L873.9 137L874.2 148L874.5 160.1L875.1 190.1L875.8 178L876.4 168.9L876.9 170.5L877.3 171.4L877.8 169L878.2 178L878.6 188.8L879.1 180L879.7 170L880.3 164L880.8 161.4L881.2 172L881.7 182.6L882.3 173L882.9 165.2L883.4 172L883.9 178.3L884.4 175L884.9 172.7L885.4 174.5L885.8 175.8L886.6 172L887.4 168.9L887.9 170.3L888.3 171.4L889.2 170L890.2 169.5L890.2 169.5C890.6 169.2 891.7 168.6 892.5 168C893.3 167.4 894.3 166.9 895.2 166.2C896.1 165.4 897 164.7 898 163.5C899 162.3 900.1 160.1 901.2 158.8C902.3 157.5 903.2 156.4 904.5 155.5C905.8 154.6 907.5 153.9 908.7 153.3C909.9 152.7 910.6 152.3 911.5 152C912.4 151.7 913.3 151.4 914.2 151.5C915.1 151.6 916 151.9 917 152.5C918 153.1 918.9 153.9 920 154.8C921.1 155.7 922.2 156.6 923.5 157.7C924.8 158.8 926.4 160.2 927.5 161.6C928.6 163 929.1 164.1 930 166C930.9 167.9 931.7 170.5 932.6 172.9C933.5 175.3 934.4 178 935.2 180.5C936 183 936.9 185.3 937.6 187.9C938.3 190.5 939 193.1 939.6 196C940.2 198.9 940.9 202.6 941.4 205.1C941.9 207.6 942.4 209.5 942.8 211C943.2 212.5 943.5 213.6 943.9 213.9C944.3 214.2 944.6 214.1 945.2 213C945.8 211.9 946.7 209.5 947.6 207.6C948.5 205.7 949.5 203.7 950.5 201.8C951.5 199.9 952.9 197.7 953.9 196.3C954.9 194.9 955.5 194.2 956.3 193.6C957.1 193 957.8 192.6 958.5 192.5C959.2 192.4 959.8 192.7 960.5 193.3C961.2 193.9 961.9 195.1 962.7 196.3C963.5 197.6 964.4 199.1 965.2 200.8C966 202.5 966.9 204.6 967.7 206.4C968.6 208.2 969.4 210 970.3 211.5C971.1 213 972.1 214.4 972.8 215.2C973.5 216 974.1 216.1 974.7 216.3C975.3 216.5 976.2 216.4 976.5 216.4L976.5 216.4L978 216.8L979.5 215.8L981 216.2L982.5 215L984.1 215.6L985.5 216L986.8 217.3L988 217.5L989.1 218.9L990 220L990.8 219.3L991.6 222.7L992.4 221.5L993.2 223.5L994.1 223.9L995 223L995.8 225.8L996.5 224.6L997.1 226.5L997.8 224L998.5 226.5L999.2 222.7L999.8 227L1000.4 230.2L1001 225L1001.7 222.7L1002 232L1002.4 241.5L1002.8 230L1003.2 226L1003.7 222.7L1004.2 228L1004.7 232.7"/>
<path stroke="#ee2222" d="M557 331C557.8 330.8 560.1 330.1 562 329.6C563.9 329.1 566.3 328.4 568.1 327.8C569.9 327.2 571.3 326.6 573 326C574.7 325.4 576.7 324.6 578.2 324.1C579.7 323.6 580.8 323.2 582 322.8C583.2 322.4 584.4 322.2 585.7 321.6C587 321 588.5 320 590 319C591.5 318 593.1 316.9 594.5 315.8C595.9 314.7 597 313.6 598.3 312.5C599.5 311.4 600.9 310 602 309C603.1 308 604.2 307.1 605.2 306.3C606.2 305.5 607.2 304.7 608.3 304C609.4 303.3 610.8 302.6 612 302C613.2 301.4 614.3 300.7 615.8 300.2C617.3 299.7 619.3 299.2 621 298.8C622.7 298.4 624.3 298.3 625.9 297.5C627.5 296.7 629 295.4 630.5 294.2C632 293 633.4 291.2 634.7 290.2C636 289.2 637.4 288.6 638.5 288C639.6 287.4 641 286.8 641.5 286.6L641.5 286.6L642.2 285.8L642.9 286.6L643.7 286L643.7 286C644.4 285.9 646.4 285.4 648 285.2C649.6 285 651.3 284.8 653.5 284.6C655.7 284.5 658.5 284.4 661 284.3C663.5 284.2 665.9 284.2 668.6 284.1C671.4 284 674.6 283.8 677.5 283.5C680.4 283.2 683.3 283 686.2 282.6C689.1 282.2 692.1 281.8 695 281.4C697.9 281 701.1 280.6 703.8 280.1C706.5 279.6 708.7 279 711 278.5C713.3 278 715.8 277.3 717.6 277.1C719.4 276.9 720.5 277.3 722 277.4C723.5 277.4 724.8 277.6 726.4 277.4C728 277.2 729.8 276.7 731.5 276.2C733.2 275.7 734.6 275.2 736.4 274.6C738.2 274 740.4 273.3 742.5 272.6C744.6 271.9 746.7 271.2 749 270.6C751.3 270 754 269.5 756.5 269C759 268.5 762.8 267.8 764.1 267.5L764.1 267.5L765.2 267.2L766 268.2L766.8 267.5L767.8 268.8L768.6 267.3L769.4 267.8L770.2 266.2L770.9 266.9L771.6 266.1L772.4 267.3L773 266.8L773.8 268.2L773.8 268.2C774.1 268.4 774.9 269 775.4 269.5C775.9 270 776.3 270.6 776.7 271C777.1 271.4 777.4 271.8 777.9 271.8C778.4 271.8 778.9 271.5 779.5 271.2C780.1 270.9 780.7 270.4 781.5 270C782.3 269.6 783 269.3 784.2 268.8C785.5 268.3 787.3 267.6 789 267C790.7 266.4 792.5 265.9 794.2 265.5C795.9 265.1 797.4 265 799 264.7C800.6 264.4 802.4 264.3 804 263.8C805.6 263.3 807 262.3 808.5 261.5C810 260.7 811 260.1 813.2 259.1C815.5 258.1 819.1 256.6 822 255.3C824.9 254.1 827.9 252.7 830.8 251.6C833.7 250.5 836.6 249.6 839.5 248.8C842.4 248 846 247.2 848.4 246.6C850.8 246 852.1 245.6 854 245C855.9 244.4 858.8 243.6 859.7 243.3L859.7 243.3L860.6 242.3L861.6 240.8L862.1 238L862.6 233.8L863.1 238.5L863.6 243.9L864.2 254L864.8 265L865.3 250L865.7 225L866.1 197L866.5 230L866.9 258L867.3 236L867.6 214L868 240L868.4 262L868.8 208.3L869.2 245L869.5 215L869.9 252L870.3 225L870.7 256L871.1 180L871.5 140L872 108.8L872.3 140L872.6 207.7L872.9 255L873.3 226L873.7 258L874.1 225L874.5 192L874.9 235L875.3 260L875.8 228L876.2 258L876.6 226L877 250L877.4 223L877.9 256L878.4 232L878.9 223.8L879.4 185L879.9 144.4L880.3 185L880.8 235L881.4 262.7L881.9 257L882.4 252.7L883 258L883.7 263.4L884.4 258L885.2 253.9L885.7 252L886.2 250.2L886.7 252L887.1 253.9L887.7 252.5L888.3 251.4L888.3 251.4C888.7 251.3 889.6 251 890.5 250.7C891.4 250.4 892.6 250.2 893.6 249.8C894.6 249.4 895.8 249 896.8 248.5C897.8 248 899.4 246.9 899.9 246.6L899.9 246.6L901.2 244.8L902.4 242.8L903.6 243.5L904.9 243.3L904.9 243.3C905.6 243 907.5 242.1 909 241.5C910.5 240.9 912.2 240 913.7 239.8C915.2 239.6 916.5 240 918 240.2C919.5 240.4 921.2 240.7 922.5 240.8C923.8 240.9 924.8 240.6 925.8 240.6C926.8 240.6 927.9 240.6 928.8 240.8C929.7 241 930.5 241.5 931.3 242C932.1 242.5 933 243.1 933.8 244C934.6 244.9 935.4 246 936.3 247.3C937.1 248.6 938 250.1 938.9 251.6C939.8 253.1 940.7 255 941.5 256.5C942.3 258 943.2 259.8 943.9 260.5C944.6 261.2 945.1 260.8 945.7 260.8C946.3 260.8 946.9 260 947.6 260.4C948.3 260.8 949.1 262.2 950 263.3C950.9 264.4 952 266.3 952.7 266.7C953.4 267.1 953.8 265.9 954.3 265.5C954.8 265.1 955.3 264.1 955.9 264.1C956.5 264.1 957.3 264.9 958 265.5C958.7 266.1 959.5 266.9 960.2 267.9C960.9 268.9 961.6 270.1 962.2 271.3C962.8 272.5 963.4 273.6 964 275C964.6 276.4 965.4 278.2 966 279.5C966.6 280.8 967.1 281.9 967.7 283C968.3 284.1 968.9 285.2 969.4 286C969.9 286.8 970.5 287.5 971 287.6C971.5 287.7 972 287.2 972.5 286.6C973 286 973.4 284.9 974 283.8C974.6 282.7 975.4 281 976 279.8C976.6 278.6 977.2 277.3 977.8 276.5C978.3 275.7 979 275.1 979.3 274.8L979.3 274.8L980.5 273.5L981.6 272.6L982.8 271.3L984.1 271.9L985.3 271L986.5 272.3L987.8 271.6L989.1 272.8L990.2 272.5L991.4 274.2L992.6 273.8L993.8 275.6L994.9 275L996 277L996.9 276.5L997.8 278.5L998.6 277.6L999.4 279.8L1000.2 278.8L1000.9 281.3L1001.5 279.8L1002 283L1002.4 287.6L1002.8 270L1003.2 255L1003.6 272L1004 284.5L1004.4 278L1004.7 281.3"/>
<path stroke="#1fbfbf" d="M557 320.3L557.8 326L558.3 321.5L558.8 328.5L559.4 324L560 331L560.7 328L561.8 334.1L563.3 337.5L564.8 339.9L566.3 337.5L568.1 334.6L569.6 335.5L571.3 337.3L573.1 338.4L575.3 336.5L577.6 334.9L579.5 335.1L579.5 335.1C580 335.2 581.5 335.6 582.5 335.7C583.5 335.8 584.5 336 585.7 335.9C586.9 335.8 588.2 335.3 589.5 334.8C590.8 334.3 592 333.6 593.2 332.9C594.4 332.2 595.5 331.4 596.5 330.5C597.5 329.6 598.5 328.9 599.5 327.8C600.5 326.7 601.7 325.2 602.7 324C603.8 322.8 604.8 321.4 605.8 320.3C606.8 319.2 608 318.2 609 317.5C610 316.8 610.9 316.4 612.1 315.8C613.4 315.2 615 314.6 616.5 314C618 313.4 619.3 313 620.9 312.3C622.5 311.6 624.3 310.8 626 310C627.7 309.2 629.4 308.4 630.9 307.7C632.4 307 634 306.4 635.3 306C636.6 305.6 638 305.2 638.5 305L638.5 305L639.7 304.5L640.6 305.1L641.5 304.3L642.5 304.8L643.5 304.1L643.5 304.1C643.7 304.1 643.6 304 644.7 304.1C645.8 304.2 648.1 304.4 650 304.6C651.9 304.8 653.8 305.1 656 305.2C658.2 305.3 660.7 305.3 663 305.3C665.3 305.3 667.6 305.4 669.9 305.2C672.2 305 674.7 304.4 677 304C679.3 303.6 681.8 303.1 683.7 302.7C685.6 302.3 686.8 301.9 688.5 301.6C690.2 301.3 691.6 300.9 693.7 300.7C695.8 300.5 698.5 300.4 701 300.3C703.5 300.2 705.8 300.3 708.8 300.2C711.8 300.1 715.6 300 719 299.9C722.4 299.8 725.6 299.7 728.9 299.7C732.2 299.7 735.6 299.8 739 299.9C742.4 300 746.2 300.1 749 300.2C751.8 300.3 753.4 300.3 755.5 300.4C757.6 300.5 759.9 300.7 761.6 300.7C763.4 300.7 764.5 300.6 766 300.6C767.5 300.6 769.4 300.4 770.4 300.7C771.4 301 771.5 301.6 772 302.3C772.5 303.1 773 304.1 773.6 305.2C774.2 306.3 774.8 307.9 775.4 308.8C776 309.7 776.5 310.7 777.1 310.8C777.7 310.9 778.2 310.2 778.7 309.5C779.2 308.8 779.8 307.4 780.4 306.5C781 305.6 781.7 304.5 782.3 303.8C782.9 303.1 783.3 302.6 784.2 302.2C785.1 301.8 786.5 301.5 787.8 301.3C789 301.1 790 301.1 791.7 301C793.4 300.9 795.7 300.6 798 300.5C800.3 300.4 802.4 300.4 805.7 300.2C809 300 813.8 299.7 818 299.5C822.2 299.3 826.6 299 830.8 298.9C835 298.8 838.8 298.7 843 298.6C847.2 298.5 852.9 298.5 855.9 298.4C858.9 298.3 859.3 298.1 861 298C862.7 297.9 864.6 297.8 866 297.7C867.4 297.6 868.2 297.6 869.3 297.7C870.3 297.8 871.4 297.9 872.3 298.2C873.2 298.5 874 299 874.8 299.5C875.6 300 876.5 300.8 877.3 301.4C878.1 302 878.8 302.8 879.5 303.3C880.2 303.8 880.8 304.3 881.6 304.4C882.4 304.5 883.3 304.1 884.3 303.8C885.2 303.5 885.8 303.1 887.3 302.7C888.8 302.3 891.1 301.7 893 301.3C894.9 300.9 896.8 300.6 898.7 300.2C900.6 299.8 902.6 299.3 904.5 299C906.4 298.7 908.4 298.4 910 298.2C911.6 298 912.8 298 914 298C915.2 298 916.4 298.1 917.5 298.2C918.6 298.3 919.8 298.5 920.8 298.6C921.8 298.7 922.9 298.9 923.8 298.9C924.7 298.9 925.5 298.6 926.3 298.5C927.1 298.4 928.1 298.3 928.8 298.4C929.5 298.5 930.1 298.8 930.7 299.3C931.3 299.8 931.9 300.3 932.6 301.4C933.3 302.5 934.3 304.3 935.1 306C935.9 307.7 936.9 309.8 937.6 311.5C938.4 313.2 939 314.8 939.6 316C940.2 317.2 940.8 318.4 941.4 318.5C942 318.6 942.6 317.5 943.2 316.5C943.8 315.5 944.4 313.7 945.1 312.7C945.8 311.7 946.8 311.1 947.6 310.5C948.5 309.9 949.2 309.5 950.2 309C951.2 308.5 952.3 307.7 953.3 307.3C954.3 306.9 955.4 306.6 956.4 306.5C957.4 306.4 958.1 306.6 959 306.9C959.9 307.2 960.6 307.5 961.5 308.2C962.4 308.9 963.6 310.1 964.6 311.2C965.6 312.3 966.8 313.8 967.7 314.7C968.6 315.6 969.3 316.3 970 316.8C970.7 317.3 971.2 317.8 972 317.8C972.8 317.8 973.8 317.2 974.8 317C975.8 316.8 976.8 316.6 977.8 316.5C978.8 316.4 979.8 316.5 980.8 316.6C981.8 316.7 982.8 316.8 983.6 317C984.4 317.2 985.1 317.6 985.8 317.9C986.5 318.2 987.1 318.6 987.8 319C988.5 319.4 989.3 320.1 990.1 320.5C990.9 320.9 991.5 321.4 992.4 321.5C993.2 321.6 994.3 321.4 995.2 321.3C996.1 321.2 996.9 320.9 997.9 320.8C998.9 320.7 999.9 320.6 1001 320.5C1002.1 320.4 1004.1 320.3 1004.7 320.3"/>
</g>
<path d="M587.5 358.9v-4.3M587.5 10.9v4.3M691.7 358.9v-4.3M691.7 10.9v4.3M796 358.9v-4.3M796 10.9v4.3M900.2 358.9v-4.3M900.2 10.9v4.3M556.2 320.2h4.3M1004.5 320.2h-4.3M556.2 281.5h4.3M1004.5 281.5h-4.3M556.2 242.9h4.3M1004.5 242.9h-4.3M556.2 204.2h4.3M1004.5 204.2h-4.3M556.2 165.5h4.3M1004.5 165.5h-4.3M556.2 126.9h4.3M1004.5 126.9h-4.3M556.2 88.2h4.3M1004.5 88.2h-4.3M556.2 49.6h4.3M1004.5 49.6h-4.3" stroke="#555" stroke-width="0.9" fill="none"/>
<rect x="556.2" y="10.9" width="448.3" height="348" fill="none" stroke="#3d3d3d" stroke-width="1.65"/>
<g font-size="12.9" fill="#111">
<text x="588.5" y="372.2" text-anchor="middle" textLength="22.8" lengthAdjust="spacingAndGlyphs">500</text>
<text x="692.7" y="372.2" text-anchor="middle" textLength="30.4" lengthAdjust="spacingAndGlyphs">1000</text>
<text x="797" y="372.2" text-anchor="middle" textLength="30.4" lengthAdjust="spacingAndGlyphs">1500</text>
<text x="901.2" y="372.2" text-anchor="middle" textLength="30.4" lengthAdjust="spacingAndGlyphs">2000</text>
<text x="1005.5" y="372.2" text-anchor="middle" textLength="30.4" lengthAdjust="spacingAndGlyphs">2500</text>
<text x="554" y="363" text-anchor="end" textLength="18.6" lengthAdjust="spacingAndGlyphs">0.0</text>
<text x="554" y="324.3" text-anchor="end" textLength="18.6" lengthAdjust="spacingAndGlyphs">0.1</text>
<text x="554" y="285.6" text-anchor="end" textLength="18.6" lengthAdjust="spacingAndGlyphs">0.2</text>
<text x="554" y="247" text-anchor="end" textLength="18.6" lengthAdjust="spacingAndGlyphs">0.3</text>
<text x="554" y="208.3" text-anchor="end" textLength="18.6" lengthAdjust="spacingAndGlyphs">0.4</text>
<text x="554" y="169.6" text-anchor="end" textLength="18.6" lengthAdjust="spacingAndGlyphs">0.5</text>
<text x="554" y="131" text-anchor="end" textLength="18.6" lengthAdjust="spacingAndGlyphs">0.6</text>
<text x="554" y="92.3" text-anchor="end" textLength="18.6" lengthAdjust="spacingAndGlyphs">0.7</text>
<text x="554" y="53.7" text-anchor="end" textLength="18.6" lengthAdjust="spacingAndGlyphs">0.8</text>
<text x="554" y="15" text-anchor="end" textLength="18.6" lengthAdjust="spacingAndGlyphs">0.9</text>
</g>
<text class="al" x="714.3" y="389" font-size="16.6" fill="#111" textLength="95.6" lengthAdjust="spacingAndGlyphs">Wavelength</text>
<text class="al" x="815" y="389" font-size="16.6" fill="#111" textLength="38.1" lengthAdjust="spacingAndGlyphs">(nm)</text>
<text class="al" transform="translate(521.9 332) rotate(-90)" font-size="16.6" fill="#111" textLength="95.5" lengthAdjust="spacingAndGlyphs">Reflectance</text>
<text class="al" transform="translate(521.9 232.4) rotate(-90)" font-size="16.6" fill="#111" textLength="119.1" lengthAdjust="spacingAndGlyphs">(%/100+Offset</text>
<text class="al" transform="translate(521.9 107.3) rotate(-90)" font-size="16.6" fill="#111" textLength="21.9" lengthAdjust="spacingAndGlyphs">for</text>
<text class="al" transform="translate(521.9 79.8) rotate(-90)" font-size="16.6" fill="#111" textLength="58" lengthAdjust="spacingAndGlyphs">Clarity)</text>
<rect x="564.3" y="18.3" width="95.5" height="88.8" fill="#fff" stroke="#3d3d3d" stroke-width="1.65"/>
<path d="M573.6 29.6H595" stroke="#1a1ae0" stroke-width="1.5"/>
<text x="610.8" y="35.5" font-size="16.5" fill="#111" textLength="45.2" lengthAdjust="spacingAndGlyphs">26042</text>
<path d="M573.6 51H595" stroke="#107f10" stroke-width="1.5"/>
<text x="610.8" y="56.9" font-size="16.5" fill="#111" textLength="45.2" lengthAdjust="spacingAndGlyphs">25042</text>
<path d="M573.6 72.3H595" stroke="#ee2222" stroke-width="1.5"/>
<text x="610.8" y="78.2" font-size="16.5" fill="#111" textLength="45.2" lengthAdjust="spacingAndGlyphs">25041</text>
<path d="M573.6 93.7H595" stroke="#1fbfbf" stroke-width="1.5"/>
<text x="610.8" y="99.6" font-size="16.5" fill="#111" textLength="45.2" lengthAdjust="spacingAndGlyphs">22042</text>
</svg>
</body></html>
